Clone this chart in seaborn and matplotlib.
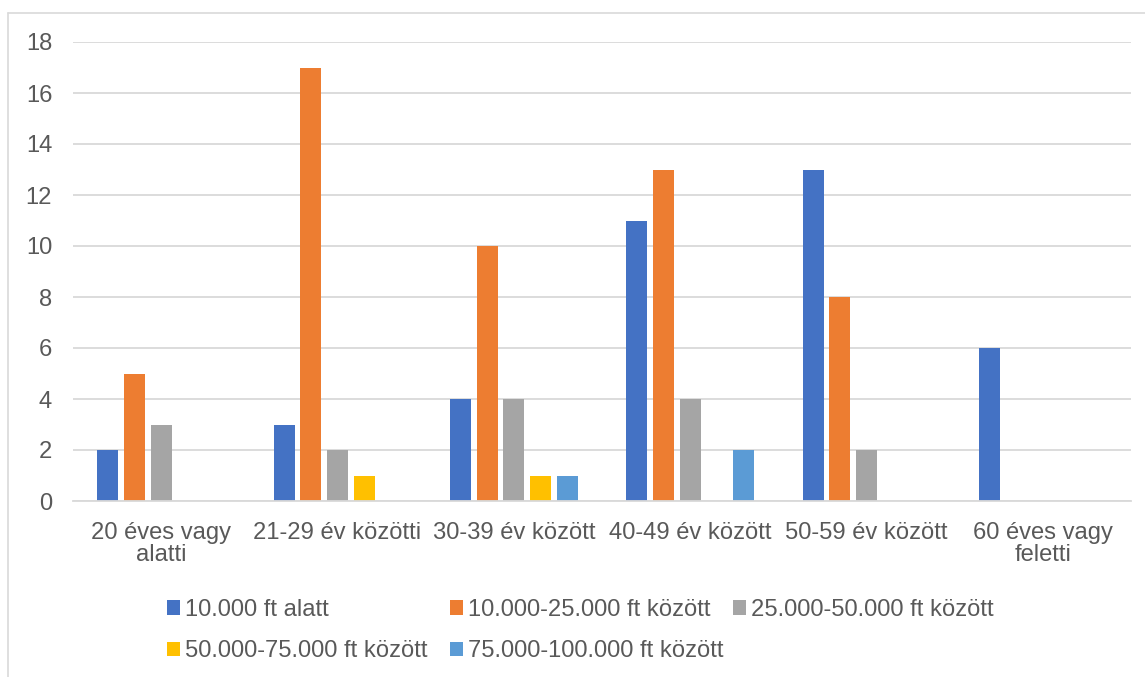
import numpy as np
import pandas as pd
import matplotlib
matplotlib.use("Agg")
import matplotlib.pyplot as plt
from matplotlib.lines import Line2D
import seaborn as sns

categories = ["20 éves vagy\nalatti", "21-29 év közötti", "30-39 év között",
              "40-49 év között", "50-59 év között", "60 éves vagy\nfeletti"]
series = ["10.000 ft alatt", "10.000-25.000 ft között", "25.000-50.000 ft között",
          "50.000-75.000 ft között", "75.000-100.000 ft között"]
s_under10 = [2, 3, 4, 11, 13, 6]
s_10_25 = [5, 17, 10, 13, 8, 0]
s_25_50 = [3, 2, 4, 4, 2, 0]
s_50_75 = [0, 1, 1, 0, 0, 0]
s_75_100 = [0, 0, 1, 2, 0, 0]
y_ticks = [0, 2, 4, 6, 8, 10, 12, 14, 16, 18]
colors = ["#4472C4", "#ED7D31", "#A5A5A5", "#FFC000", "#5B9BD5"]

values = [s_under10, s_10_25, s_25_50, s_50_75, s_75_100]
rows = []
for sname, vals in zip(series, values):
    for c, v in zip(categories, vals):
        rows.append({"Korcsoport": c, "Sorozat": sname, "Érték": v})
df = pd.DataFrame(rows)

sns.set_theme(style="white")
plt.rcParams["font.family"] = ["Liberation Sans", "DejaVu Sans"]

W, H = 1145, 677
fig = plt.figure(figsize=(W / 100, H / 100), dpi=100)
ax = fig.add_axes([73 / W, 1 - 501 / H, (1131 - 73) / W, (501 - 42) / H])

sns.barplot(data=df, x="Korcsoport", y="Érték", hue="Sorozat", order=categories,
            hue_order=series, palette=colors, saturation=1, width=0.757, gap=0.21,
            linewidth=0, errorbar=None, ax=ax)

txt = "#595959"
grid = "#D9D9D9"
fs = 17.1
ax.set_ylim(0, 18)
ax.set_xlim(-0.5, len(categories) - 0.5)
ax.set_yticks(y_ticks)
ax.set_xlabel("")
ax.set_ylabel("")
ax.yaxis.grid(True, color=grid, linewidth=1.3)
ax.set_axisbelow(True)
for side in ["top", "right", "left"]:
    ax.spines[side].set_visible(False)
ax.spines["bottom"].set_color(grid)
ax.spines["bottom"].set_linewidth(1.3)
ax.tick_params(axis="y", length=0, pad=15, labelsize=fs, labelcolor=txt)
ax.tick_params(axis="x", length=0, pad=15, labelsize=fs, labelcolor=txt)
for lab in ax.get_xticklabels():
    lab.set_linespacing(1.0)
    lab.set_ha("center")

handles, labels = ax.get_legend_handles_labels()
ax.get_legend().remove()

cols = [[0, 3], [1, 4], [2]]
xs = [167, 450, 733]
for idxs, x0 in zip(cols, xs):
    leg = fig.legend([handles[i] for i in idxs], [labels[i] for i in idxs],
                     loc="upper left", bbox_to_anchor=(x0 / W, 1 - 599 / H),
                     bbox_transform=fig.transFigure, frameon=False, borderpad=0,
                     borderaxespad=0, handlelength=0.55, handleheight=0.55,
                     handletextpad=0.2, labelspacing=0.82, fontsize=fs,
                     labelcolor=txt)

# outer chart frame (left and top edges visible)
fig.add_artist(Line2D([7.5 / W, 7.5 / W], [0, 1 - 12.5 / H], transform=fig.transFigure,
                      color=grid, linewidth=1.2))
fig.add_artist(Line2D([7.5 / W, 1], [1 - 12.5 / H, 1 - 12.5 / H], transform=fig.transFigure,
                      color=grid, linewidth=1.2))

fig.savefig("out.png", dpi=100, facecolor="white")
